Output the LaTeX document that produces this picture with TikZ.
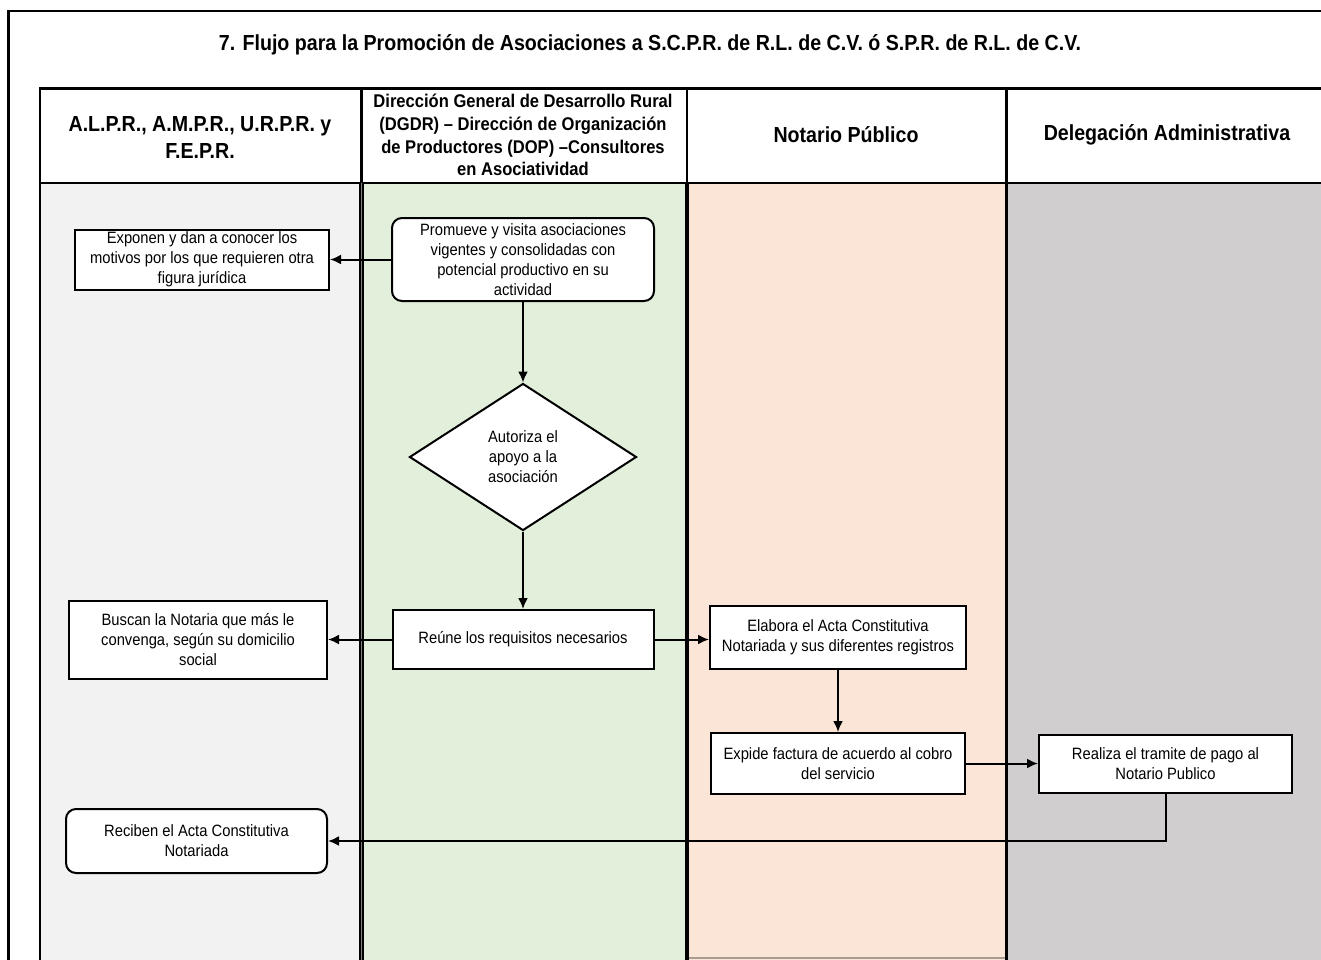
\documentclass[tikz,border=0pt]{standalone}
\usepackage{fontspec}
\setmainfont{Liberation Sans}[FakeStretch=0.9]
\usetikzlibrary{arrows.meta}
\usetikzlibrary{positioning, shapes.geometric}
\definecolor{laneA}{HTML}{F2F2F2}
\definecolor{laneB}{HTML}{E2EFDA}
\definecolor{laneC}{HTML}{FBE5D6}
\definecolor{laneD}{HTML}{D0CECE}
\definecolor{laneedge}{HTML}{A69C94}
\tikzset{
	proc/.style = {
		draw,
		rectangle,
		line width=2pt,
		fill=white,
		align=center,
		inner sep=0pt,
		font=\fontsize{16.4}{20}\selectfont
	},
	procr/.style = {proc, rounded corners=10pt},
	decis/.style = {proc, diamond, minimum width=227pt, minimum height=147pt},
	hdr/.style = {align=center, font=\bfseries\fontsize{21.8}{27}\selectfont},
	hdrsmall/.style = {align=center, font=\bfseries\fontsize{18.4}{22.7}\selectfont},
	flow/.style = {->, line width=2pt}
}

\begin{document}
\begin{tikzpicture}[
		x=1pt, y=-1pt,
		>={Latex[length=11pt,width=10pt]},
	]

	% Canvas of the page
	\useasboundingbox (0,0) rectangle (1321,959);
	\clip (0,0) rectangle (1321,959);
	\fill[white] (0,0) rectangle (1321,959);

	% Lanes
	\fill[laneA] (40,183) rectangle (361,970);
	\fill[laneB] (361,183) rectangle (687,970);
	\fill[laneC] (687,183) rectangle (1006,970);
	\fill[laneD] (1006,183) rectangle (1330,970);
	\draw[laneedge, line width=1.2pt] (687,958) -- (1006,958);

	% Outer frame and table lines
	\draw[line width=2.5pt] (1330,11) -- (8.5,11) -- (8.5,970);
	\draw[line width=2.5pt] (1330,88.5) -- (40,88.5) -- (40,970);
	\draw[line width=2.5pt] (40,183) -- (1330,183);
	\draw[line width=2.2pt] (361.5,88.5) -- (361.5,183);
	\draw[line width=4.5pt] (361.5,183) -- (361.5,970);
	\draw[line width=1.6pt, gray] (361.5,183) -- (361.5,970);
	\draw[line width=2.2pt] (687,88.5) -- (687,183);
	\draw[line width=3.5pt] (687,183) -- (687,970);
	\draw[line width=2.2pt] (1006.5,88.5) -- (1006.5,970);

	% Title and lane headers
	\node[hdr] (title) at (650,45)
		{7. Flujo para la Promoción de Asociaciones a S.C.P.R. de R.L. de C.V. ó S.P.R. de R.L. de C.V.};
	\node[hdr] (h1) at (200,137) {A.L.P.R., A.M.P.R., U.R.P.R. y\\F.E.P.R.};
	\node[hdrsmall] (h2) at (523,135) {Dirección General de Desarrollo Rural\\(DGDR) – Dirección de Organización\\de Productores (DOP) –Consultores\\en Asociatividad};
	\node[hdr] (h3) at (846,135) {Notario Público};
	\node[hdr] (h4) at (1167,135) {Delegación Administrativa};

	% Steps
	\node[procr, minimum width=262pt, minimum height=83pt] (promo) at (523,259.5)
		{Promueve y visita asociaciones\\vigentes y consolidadas con\\potencial productivo en su\\actividad};
	\node[proc, minimum width=254pt, minimum height=60pt] (expo) at (202,259.5)
		{Exponen y dan a conocer los\\motivos por los que requieren otra\\figura jurídica};
	\node[decis] (autz) at (523,457) {Autoriza el\\apoyo a la\\asociación};
	\node[proc, minimum width=261pt, minimum height=59pt] (reune) at (523,639.5)
		{Reúne los requisitos necesarios};
	\node[proc, minimum width=258pt, minimum height=78pt] (busca) at (198,639.5)
		{Buscan la Notaria que más le\\convenga, según su domicilio\\social};
	\node[proc, minimum width=256pt, minimum height=63pt] (elab) at (838,637.5)
		{Elabora el Acta Constitutiva\\Notariada y sus diferentes registros};
	\node[proc, minimum width=254pt, minimum height=61pt, below=62pt of elab] (expi)
		{Expide factura de acuerdo al cobro\\del servicio};
	\node[proc, minimum width=253pt, minimum height=58pt, right=72pt of expi] (real)
		{Realiza el tramite de pago al\\Notario Publico};
	\node[procr, minimum width=261pt, minimum height=64pt] (recib) at (196.5,841)
		{Reciben el Acta Constitutiva\\Notariada};

	% Connectors
	\draw[flow] (promo) -- (expo);
	\draw[flow] (promo) -- (autz);
	\draw[flow] (autz) -- (reune);
	\draw[flow] (reune) -- (busca);
	\draw[flow] (reune.east) -- (reune.east -| elab.west);
	\draw[flow] (elab) -- (expi);
	\draw[flow] (expi) -- (real);
	\draw[flow] (real.south) |- (recib.east);

\end{tikzpicture}
\end{document}
